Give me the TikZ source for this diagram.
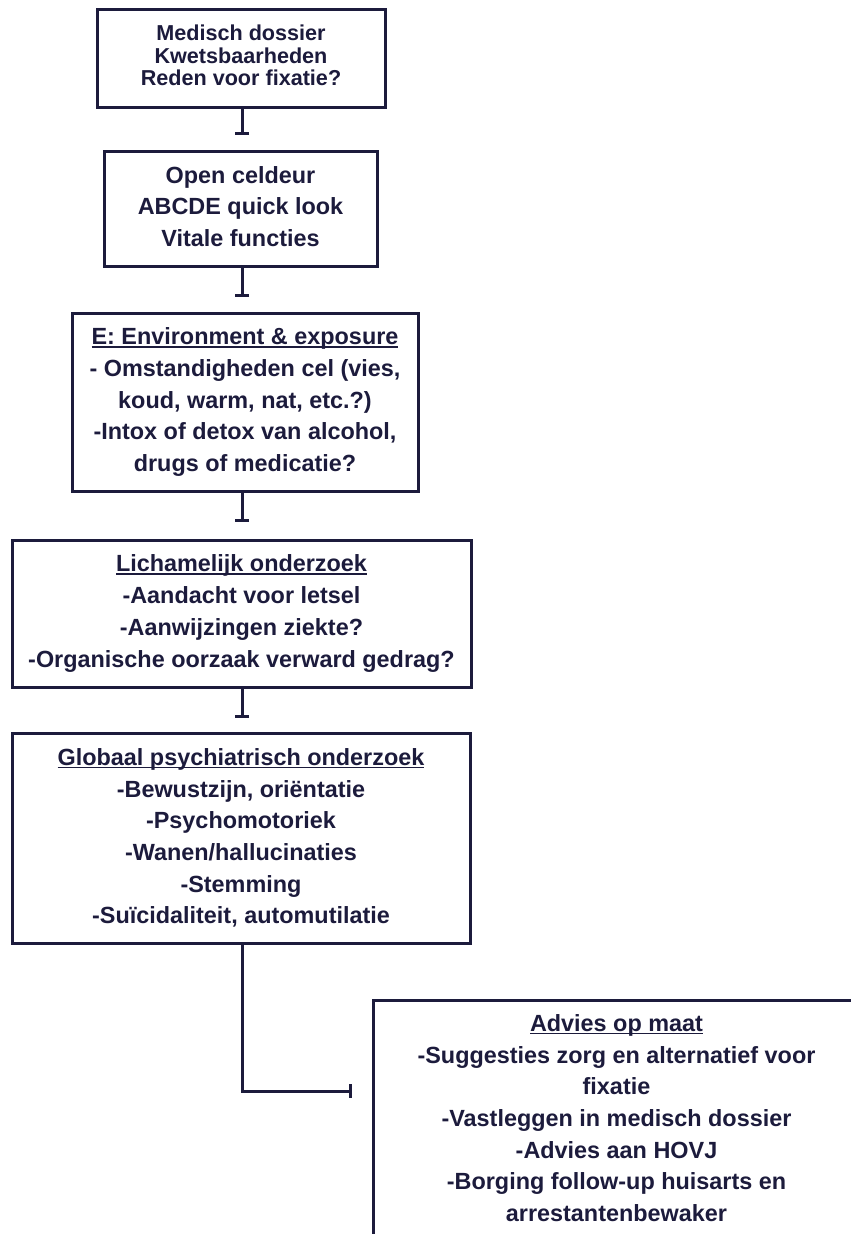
\documentclass[tikz,border=0pt]{standalone}
\usepackage{fontspec}
\setmainfont{Liberation Sans}
\usetikzlibrary{arrows.meta}
\definecolor{BoxClr}{RGB}{28,27,60}
\newcommand\ulhead[1]{\setbox0\hbox{#1}\rlap{\rule[-3pt]{\wd0}{1.6pt}}\box0}

\begin{document}
\begin{tikzpicture}[x=1pt,y=-1pt,
  box/.style={draw=BoxClr,line width=3pt,text=BoxClr,align=center,inner sep=0pt,
    font=\bfseries\fontsize{23.4}{31.7}\selectfont},
  tee/.style={draw=BoxClr,line width=3pt,-{Bar[width=14pt]}}]
\clip (0,0) rectangle (851,1234);
\fill[white] (0,0) rectangle (851,1234);

\node[box,minimum width=288pt,minimum height=98pt,text depth=5pt,
  font=\bfseries\fontsize{21.6}{22.5}\selectfont] (dossier) at (241,58)
  {Medisch dossier\\Kwetsbaarheden\\Reden voor fixatie?};
\node[box,minimum width=273pt,minimum height=115pt,text depth=4pt] (celdeur) at (240.5,208.5)
  {Open celdeur\\ABCDE quick look\\Vitale functies};
\node[box,minimum width=346pt,minimum height=178pt] (environ) at (245,402)
  {\ulhead{E: Environment \& exposure}\\- Omstandigheden cel (vies,\\koud, warm, nat, etc.?)\\
   -Intox of detox van alcohol,\\drugs of medicatie?};
\node[box,minimum width=459pt,minimum height=147pt] (lichaam) at (241.5,613.5)
  {\ulhead{Lichamelijk onderzoek}\\-Aandacht voor letsel\\-Aanwijzingen ziekte?\\
   -Organische oorzaak verward gedrag?};
\node[box,minimum width=458pt,minimum height=210pt] (psych) at (241,838)
  {\ulhead{Globaal psychiatrisch onderzoek}\\-Bewustzijn, oriëntatie\\-Psychomotoriek\\
   -Wanen/hallucinaties\\-Stemming\\-Suïcidaliteit, automutilatie};
\node[box,anchor=north west,minimum width=486pt,inner ysep=14pt] (advies) at (372,999)
  {\ulhead{Advies op maat}\\-Suggesties zorg en alternatief voor\\fixatie\\
   -Vastleggen in medisch dossier\\-Advies aan HOVJ\\-Borging follow-up huisarts en\\
   arrestantenbewaker};

% free ends of the connectors
\coordinate (end1) at (242,135);
\coordinate (end2) at (242,297);
\coordinate (end3) at (242,522);
\coordinate (end4) at (242,718);
\coordinate (end5) at (352,1091);

\draw[tee] (dossier.south -| end1) -- (end1);
\draw[tee] (celdeur.south -| end2) -- (end2);
\draw[tee] (environ.south -| end3) -- (end3);
\draw[tee] (lichaam.south -| end4) -- (end4);
\draw[tee] (psych.south -| end4) |- (end5);

\end{tikzpicture}
\end{document}
